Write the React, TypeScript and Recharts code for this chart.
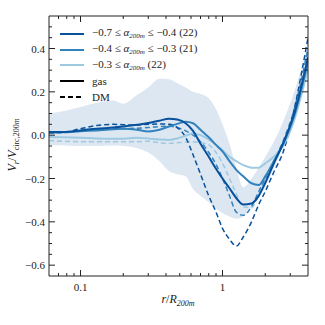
import React from 'react';
import { ComposedChart, Line, Area, XAxis, YAxis, Legend } from 'recharts';

// r / R200m sample points shared by every profile
const radius = [0.06, 0.075, 0.1, 0.13, 0.17, 0.2, 0.25, 0.3, 0.36, 0.42, 0.48, 0.55, 0.62, 0.7, 0.8, 0.9, 1.0, 1.12, 1.25, 1.4, 1.6, 1.8, 2.0, 2.3, 2.7, 3.2, 4.0];

// gas (solid)
const gasLow = [0.015, 0.015, 0.022, 0.03, 0.035, 0.04, 0.048, 0.056, 0.067, 0.076, 0.072, 0.055, 0.02, -0.04, -0.1, -0.155, -0.2, -0.245, -0.29, -0.32, -0.315, -0.28, -0.22, -0.13, -0.03, 0.1, 0.36];
const gasMid = [0.012, 0.013, 0.018, 0.022, 0.027, 0.03, 0.025, 0.017, 0.025, 0.04, 0.052, 0.062, 0.055, 0.025, -0.01, -0.045, -0.075, -0.12, -0.16, -0.19, -0.222, -0.23, -0.19, -0.12, -0.035, 0.09, 0.34];
const gasHigh = [-0.008, -0.01, -0.012, -0.015, -0.016, -0.016, -0.012, -0.015, -0.02, -0.022, -0.015, -0.003, 0.008, 0.0, -0.02, -0.045, -0.07, -0.1, -0.12, -0.138, -0.15, -0.15, -0.13, -0.1, -0.045, 0.07, 0.31];

// dark matter (dashed)
const dmLow = [0.01, 0.012, 0.03, 0.045, 0.05, 0.048, 0.047, 0.05, 0.052, 0.05, 0.035, -0.01, -0.09, -0.18, -0.28, -0.355, -0.43, -0.48, -0.512, -0.47, -0.4, -0.32, -0.26, -0.17, -0.07, 0.12, 0.45];
const dmMid = [0.015, 0.015, 0.02, 0.025, 0.028, 0.03, 0.032, 0.035, 0.04, 0.042, 0.035, 0.02, 0.0, -0.03, -0.08, -0.135, -0.2, -0.28, -0.355, -0.37, -0.33, -0.26, -0.2, -0.12, -0.02, 0.12, 0.4];
const dmHigh = [-0.025, -0.028, -0.03, -0.03, -0.03, -0.03, -0.03, -0.028, -0.035, -0.038, -0.035, -0.032, -0.03, -0.035, -0.045, -0.08, -0.13, -0.2, -0.27, -0.33, -0.335, -0.27, -0.2, -0.12, -0.03, 0.1, 0.36];

// scatter band
const bandUpper = [0.1, 0.11, 0.13, 0.15, 0.16, 0.145, 0.185, 0.22, 0.26, 0.258, 0.24, 0.22, 0.2, 0.19, 0.17, 0.12, 0.05, -0.04, -0.15, -0.24, -0.2, -0.15, -0.1, -0.03, 0.07, 0.2, 0.42];
const bandLower = [-0.045, -0.047, -0.05, -0.05, -0.048, -0.05, -0.06, -0.08, -0.12, -0.165, -0.18, -0.19, -0.25, -0.28, -0.31, -0.34, -0.36, -0.375, -0.385, -0.375, -0.33, -0.28, -0.24, -0.15, -0.05, 0.08, 0.28];

const binFrom = ['\u22120.7', '\u22120.4', '\u22120.3'];
const binTo = ['\u22120.4', '\u22120.3', null];
const binCount = [22, 21, 22];
const binColors = ['#08519c', '#3182bd', '#9ecae1'];

const xTicks = [0.07, 0.08, 0.09, 0.1, 0.2, 0.3, 0.4, 0.5, 0.6, 0.7, 0.8, 0.9, 1, 2, 3];
const xMajor = [0.1, 1];
const yTicks = [-0.6, -0.55, -0.5, -0.45, -0.4, -0.35, -0.3, -0.25, -0.2, -0.15, -0.1, -0.05, 0, 0.05, 0.1, 0.15, 0.2, 0.25, 0.3, 0.35, 0.4, 0.45, 0.5];

const data = radius.map((r, i) => ({
  r,
  band: [bandLower[i], bandUpper[i]],
  gasLow: gasLow[i],
  gasMid: gasMid[i],
  gasHigh: gasHigh[i],
  dmLow: dmLow[i],
  dmMid: dmMid[i],
  dmHigh: dmHigh[i],
}));

const FONT = '"Times New Roman", "Liberation Serif", Times, serif';
const INK = '#222';

const isYMajor = (v: number) => Math.abs(v * 5 - Math.round(v * 5)) < 1e-6;
const fmtY = (v: number) => (v < 0 ? '\u2212' : '') + Math.abs(v).toFixed(1);

const XTick = ({ x, y, payload, side }: any) => {
  const major = xMajor.includes(payload.value);
  const len = major ? 6 : 3;
  const dir = side === 'top' ? 1 : -1;
  return (
    <g>
      <line x1={x} x2={x} y1={y} y2={y + dir * len} stroke={INK} strokeWidth={1} />
      {side !== 'top' && major && (
        <text x={x} y={y + 15} textAnchor="middle" fontSize={11} style={{ fontFamily: FONT }} fill={INK}>
          {payload.value}
        </text>
      )}
    </g>
  );
};

const YTick = ({ x, y, payload, side }: any) => {
  const major = isYMajor(payload.value);
  const len = major ? 6 : 3;
  const dir = side === 'right' ? -1 : 1;
  return (
    <g>
      <line x1={x} x2={x + dir * len} y1={y} y2={y} stroke={INK} strokeWidth={1} />
      {side !== 'right' && major && (
        <text x={x - 4} y={y + 4} textAnchor="end" fontSize={11} style={{ fontFamily: FONT }} fill={INK}>
          {fmtY(payload.value)}
        </text>
      )}
    </g>
  );
};

const Alpha = () => (
  <>
    <i>α</i>
    <sub style={{ fontSize: 7, fontStyle: 'italic', verticalAlign: -2 }}>200m</sub>
  </>
);

const LegendBox = () => {
  const rows = binFrom.map((lo, i) => ({
    key: 'bin' + i,
    color: binColors[i],
    dash: undefined as string | undefined,
    text: (
      <span>
        {lo} ≤ <Alpha />
        {binTo[i] ? <> ≤ {binTo[i]}</> : null} ({binCount[i]})
      </span>
    ),
  }));
  rows.push({ key: 'gas', color: '#000', dash: undefined, text: <span>gas</span> });
  rows.push({ key: 'dm', color: '#000', dash: '5 3', text: <span>DM</span> });
  return (
    <div style={{ fontFamily: FONT, fontSize: 11, color: INK, lineHeight: 1 }}>
      {rows.map((row) => (
        <div key={row.key} style={{ display: 'flex', alignItems: 'center', height: 15.8, whiteSpace: 'nowrap' }}>
          <svg width={24} height={6} style={{ marginRight: 8 }}>
            <line x1={0} x2={24} y1={3} y2={3} stroke={row.color} strokeWidth={2} strokeDasharray={row.dash} />
          </svg>
          {row.text}
        </div>
      ))}
    </div>
  );
};

const App = () => (
  <div style={{ position: 'absolute', left: 0, top: 0, width: 325, height: 325, background: '#fff' }}>
    <ComposedChart width={325} height={325} data={data} margin={{ top: 15, right: 16, bottom: 0, left: 0 }}>
      <XAxis
        dataKey="r"
        type="number"
        scale="log"
        domain={[0.06, 4]}
        allowDataOverflow
        ticks={xTicks}
        interval={0}
        height={49}
        tickSize={0}
        tickMargin={0}
        tickLine={false}
        axisLine={{ stroke: INK }}
        tick={<XTick side="bottom" />}
        label={{
          content: () => (
            <text x={178} y={303} textAnchor="middle" fontSize={12} style={{ fontFamily: FONT }} fill={INK}>
              <tspan fontStyle="italic">r</tspan>
              <tspan>/</tspan>
              <tspan fontStyle="italic">R</tspan>
              <tspan fontSize={8} dy={3} fontStyle="italic">200m</tspan>
            </text>
          ),
        }}
      />
      <XAxis
        xAxisId="top"
        dataKey="r"
        type="number"
        scale="log"
        orientation="top"
        domain={[0.06, 4]}
        allowDataOverflow
        ticks={xTicks}
        interval={0}
        height={1}
        tickSize={0}
        tickMargin={0}
        tickLine={false}
        axisLine={{ stroke: INK }}
        tick={<XTick side="top" />}
      />
      <YAxis
        type="number"
        domain={[-0.65, 0.55]}
        allowDataOverflow
        ticks={yTicks}
        interval={0}
        width={49}
        tickSize={0}
        tickMargin={0}
        tickLine={false}
        axisLine={{ stroke: INK }}
        tick={<YTick side="left" />}
        label={{
          content: () => (
            <text x={0} y={0} transform="translate(16,145) rotate(-90)" textAnchor="middle" fontSize={12} style={{ fontFamily: FONT }} fill={INK}>
              <tspan fontStyle="italic">V</tspan>
              <tspan fontSize={8} dy={3} fontStyle="italic">r</tspan>
              <tspan dy={-3}>/</tspan>
              <tspan fontStyle="italic">V</tspan>
              <tspan fontSize={8} dy={3}>circ,200</tspan>
              <tspan fontSize={8} fontStyle="italic">m</tspan>
            </text>
          ),
        }}
      />
      <YAxis
        yAxisId="right"
        orientation="right"
        type="number"
        domain={[-0.65, 0.55]}
        allowDataOverflow
        ticks={yTicks}
        interval={0}
        width={1}
        tickSize={0}
        tickMargin={0}
        tickLine={false}
        axisLine={{ stroke: INK }}
        tick={<YTick side="right" />}
      />
      <Area xAxisId="top" yAxisId="right" dataKey="band" type="monotone" stroke="none" fill="#dde7f2" fillOpacity={1} isAnimationActive={false} />
      <Line dataKey="dmHigh" type="monotone" stroke={binColors[2]} strokeWidth={1.5} strokeDasharray="5 3" dot={false} isAnimationActive={false} />
      <Line dataKey="dmMid" type="monotone" stroke={binColors[1]} strokeWidth={1.5} strokeDasharray="5 3" dot={false} isAnimationActive={false} />
      <Line dataKey="dmLow" type="monotone" stroke={binColors[0]} strokeWidth={1.5} strokeDasharray="5 3" dot={false} isAnimationActive={false} />
      <Line dataKey="gasHigh" type="monotone" stroke={binColors[2]} strokeWidth={2} dot={false} isAnimationActive={false} />
      <Line dataKey="gasMid" type="monotone" stroke={binColors[1]} strokeWidth={2} dot={false} isAnimationActive={false} />
      <Line dataKey="gasLow" type="monotone" stroke={binColors[0]} strokeWidth={2} dot={false} isAnimationActive={false} />
      <Legend
        layout="vertical"
        align="center"
        verticalAlign="middle"
        content={<LegendBox />}
        wrapperStyle={{ top: 26, left: 60, width: 'auto' }}
      />
    </ComposedChart>
  </div>
);

export default App;
